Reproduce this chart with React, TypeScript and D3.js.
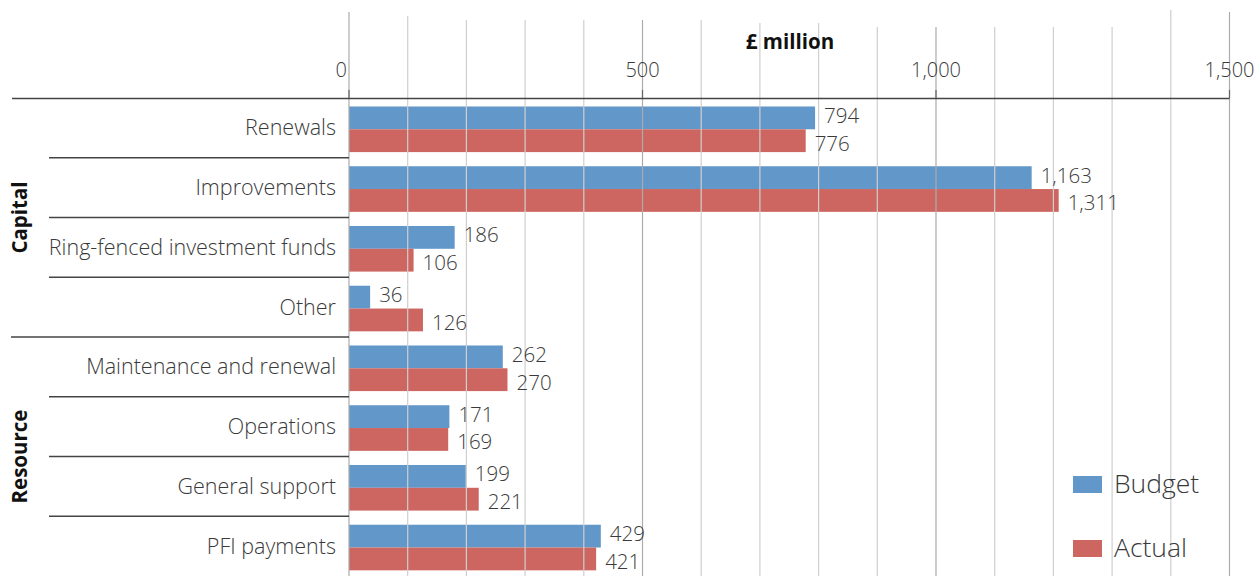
import React from "react";
import * as d3 from "d3";

const categories = [
  "Renewals",
  "Improvements",
  "Ring-fenced investment funds",
  "Other",
  "Maintenance and renewal",
  "Operations",
  "General support",
  "PFI payments",
];
const groups = [
  { name: "Capital", members: ["Renewals", "Improvements", "Ring-fenced investment funds", "Other"] },
  { name: "Resource", members: ["Maintenance and renewal", "Operations", "General support", "PFI payments"] },
];
// values printed as data labels
const budget = [794, 1163, 186, 36, 262, 171, 199, 429];
const actual = [776, 1311, 106, 126, 270, 169, 221, 421];
// bar lengths as drawn in the reference (the "Improvements" actual bar is drawn shorter than its label)
const budgetBars = [794, 1163, 180, 36, 262, 171, 199, 429];
const actualBars = [778, 1209, 110, 126, 270, 169, 221, 421];
const seriesNames = ["Budget", "Actual"];
const seriesColors = ["#6297CA", "#CD6660"];
const xTickValues = [0, 500, 1000, 1500];
const gridValues = d3.range(0, 1501, 100);
const axisTitle = "£ million";

const W = 1260;
const H = 576;
const FONT = "'Open Sans', 'Noto Sans', sans-serif";
const TEXT = "#3a3a3a";

export default function App() {
  const x = d3.scaleLinear().domain([0, 1500]).range([349, 1229.5]);
  const y0 = d3.scaleBand<string>().domain(categories).range([98, 576]);
  const y1 = d3
    .scaleBand<string>()
    .domain(seriesNames)
    .range([0, y0.bandwidth()])
    .paddingInner(0)
    .paddingOuter(0.31)
    .align(0.6);
  const fmt = d3.format(",");
  const labels = [budget, actual];
  const bars = [budgetBars, actualBars];
  const labelDy = [5, 10];

  const groupBounds = groups.map((g) => {
    const top = y0(g.members[0])!;
    const bottom = y0(g.members[g.members.length - 1])! + y0.bandwidth();
    return { name: g.name, top, bottom };
  });

  return (
    <svg
      width={W}
      height={H}
      style={{ position: "absolute", left: 0, top: 0, background: "#fff" }}
      fontFamily={FONT}
    >
      {/* bars */}
      {categories.map((c, i) =>
        seriesNames.map((s, j) => (
          <rect
            key={c + s}
            x={x(0)}
            y={y0(c)! + y1(s)!}
            width={x(bars[j][i]) - x(0)}
            height={y1.bandwidth()}
            fill={seriesColors[j]}
          />
        ))
      )}

      {/* gridlines (drawn over bars) */}
      {gridValues.map((v) => {
        const major = v % 500 === 0;
        const top = v === 0 || v === 1500 ? 12 : v === 1400 ? 10 : v <= 100 ? 16 : v <= 600 ? 20 : v <= 800 ? 23 : 27;
        return (
          <line
            key={"g" + v}
            x1={x(v)}
            x2={x(v)}
            y1={top}
            y2={H}
            stroke={major ? "#ababab" : "#cfcfcf"}
            strokeWidth={1.2}
          />
        );
      })}

      {/* top axis line */}
      <line x1={12} x2={x(1500)} y1={98.5} y2={98.5} stroke="#444" strokeWidth={1.3} />
      {xTickValues.map((v) => (
        <line key={"t" + v} x1={x(v)} x2={x(v)} y1={90} y2={98} stroke="#666" strokeWidth={1.2} />
      ))}
      {xTickValues.map((v, i) => (
        <text
          key={"tl" + v}
          x={i === 0 ? x(v) - 2 : x(v)}
          y={77}
          textAnchor={i === 0 ? "end" : "middle"}
          fontSize={20}
          fontWeight={300}
          fill={TEXT}
        >
          {fmt(v)}
        </text>
      ))}
      <text x={790} y={49} textAnchor="middle" fontSize={20.5} fontWeight={700} fill="#111">
        {axisTitle}
      </text>

      {/* category separators */}
      {categories.map((c, i) => {
        if (i === 0) return null;
        const yy = y0(c)!;
        const isGroupStart = groups.some((g) => g.members[0] === c);
        return (
          <line
            key={"s" + c}
            x1={isGroupStart ? 11 : 49}
            x2={x(0)}
            y1={yy}
            y2={yy}
            stroke="#444"
            strokeWidth={1.3}
          />
        );
      })}

      {/* category labels */}
      {categories.map((c) => (
        <text
          key={"cl" + c}
          x={336}
          y={y0(c)! + y0.bandwidth() / 2 + 7.5}
          textAnchor="end"
          fontSize={21.5}
          fontWeight={300}
          fill={TEXT}
        >
          {c}
        </text>
      ))}

      {/* group labels */}
      {groupBounds.map((g) => {
        const cy = (g.top + g.bottom) / 2;
        return (
          <text
            key={"gl" + g.name}
            transform={`translate(27,${cy}) rotate(-90)`}
            textAnchor="middle"
            fontSize={20.5}
            fontWeight={700}
            fill="#111"
          >
            {g.name}
          </text>
        );
      })}

      {/* value labels */}
      {categories.map((c, i) =>
        seriesNames.map((s, j) => (
          <text
            key={"v" + c + s}
            x={x(bars[j][i]) + 9}
            y={y0(c)! + y1(s)! + y1.bandwidth() / 2 + labelDy[j]}
            fontSize={20.5}
            fontWeight={300}
            fill={TEXT}
          >
            {fmt(labels[j][i])}
          </text>
        ))
      )}

      {/* legend */}
      {seriesNames.map((s, j) => (
        <g key={"lg" + s} transform={`translate(1073,${476 + j * 64})`}>
          <rect x={0} y={0} width={29} height={17} fill={seriesColors[j]} />
          <text x={41} y={17} fontSize={26.5} fontWeight={300} fill={TEXT}>
            {s}
          </text>
        </g>
      ))}
    </svg>
  );
}
